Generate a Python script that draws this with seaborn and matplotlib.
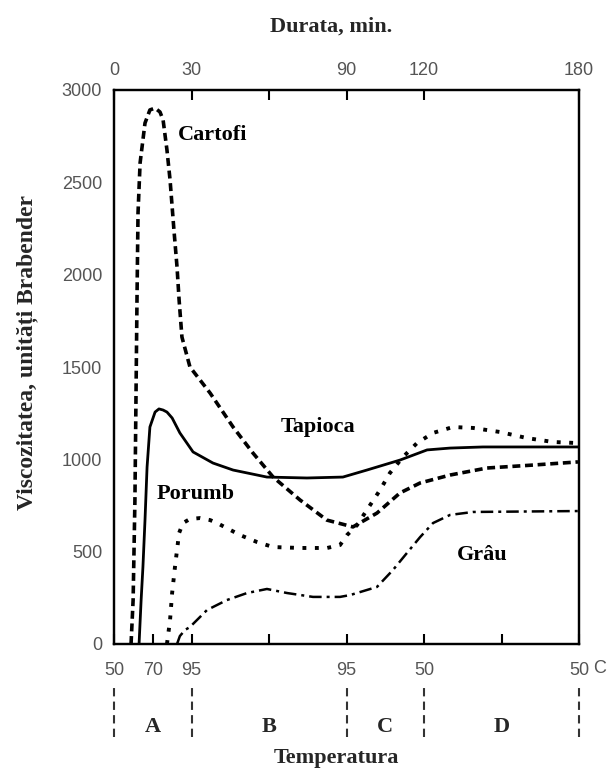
import matplotlib
matplotlib.use("Agg")
import matplotlib.pyplot as plt
import matplotlib.transforms as mtransforms
import seaborn as sns

# Brabender viscosity curves: time (min) vs. viscosity (Brabender units)
cartofi_min = [6.6, 7.4, 8.1, 8.5, 8.9, 9.3, 10.1, 12.0, 13.9, 15.9, 17.8, 19.0, 20.5,
               21.7, 23.2, 24.4, 25.2, 26.3, 29.4, 37.2, 46.1, 53.8, 61.6, 72.0, 82.4,
               92.5, 101.8, 110.7, 118.5, 130.1, 144.4, 162.2, 179.6]
cartofi_bu = [0, 238, 780, 1321, 1863, 2334, 2605, 2821, 2892, 2902, 2881, 2838, 2675,
              2513, 2242, 2041, 1863, 1662, 1500, 1359, 1175, 1034, 904, 780, 671,
              634, 709, 818, 872, 915, 953, 969, 986]

porumb_min = [9.7, 10.5, 11.2, 12.0, 12.8, 13.9, 15.9, 17.4, 19.0, 20.5, 22.5, 25.5,
              30.6, 38.3, 46.1, 59.2, 74.7, 88.6, 97.9, 110.7, 121.2, 130.1, 142.8, 179.6]
porumb_bu = [0, 238, 417, 671, 958, 1175, 1256, 1273, 1267, 1256, 1224, 1143,
             1040, 980, 942, 904, 899, 904, 942, 996, 1051, 1061, 1067, 1067]

tapioca_min = [20.5, 21.7, 22.5, 23.6, 25.2, 26.7, 29.4, 33.3, 37.2, 39.9, 48.8, 55.4,
               61.6, 72.0, 82.5, 87.5, 90.2, 94.1, 97.9, 103.0, 106.8, 111.9, 117.3,
               123.5, 131.2, 139.0, 149.4, 159.9, 169.9, 179.6]
tapioca_bu = [0, 130, 276, 417, 601, 655, 677, 682, 671, 655, 590, 552,
              525, 520, 520, 536, 590, 644, 726, 834, 926, 1013, 1088,
              1143, 1175, 1170, 1148, 1115, 1094, 1088]

grau_min = [24.4, 25.5, 27.5, 29.4, 36.0, 43.7, 51.5, 59.2, 67.0, 77.0, 87.5, 91.4,
            101.8, 108.0, 113.4, 118.5, 123.5, 130.1, 139.0, 179.6]
grau_bu = [0, 43, 76, 92, 184, 238, 276, 298, 276, 255, 255, 265,
           309, 401, 493, 579, 655, 699, 715, 720]

# curve names and where they are written (min, BU)
curve_names = ["Cartofi", "Tapioca", "Porumb", "Grâu"]
name_x = [38.3, 79.0, 31.7, 142.5]
name_y = [2756, 1175, 812, 482]

# duration axis (top)
top_ticks = [0, 30, 60, 90, 120, 180]
top_labels = ["0", "30", "", "90", "120", "180"]

# temperature axis (bottom)
bottom_ticks = [0, 15, 30, 60, 90, 120, 150, 180]
bottom_labels = ["50", "70", "95", "", "95", "50", "", "50"]

y_ticks = [0, 500, 1000, 1500, 2000, 2500, 3000]

# heating / cooling stages
stage_bounds = [0, 30, 90, 120, 180]
stage_names = ["A", "B", "C", "D"]

sns.set_theme(style="white")
plt.rcParams["font.family"] = ["Liberation Sans", "DejaVu Sans"]

SERIF = ["Liberation Serif", "DejaVu Serif"]
TICK_COLOR = "#555555"

fig = plt.figure(figsize=(6.11, 7.69), dpi=100)
fig.patch.set_facecolor("white")
ax = fig.add_axes([114 / 611, 1 - 644 / 769, 465 / 611, 554 / 769])

curves = [
    (cartofi_min, cartofi_bu, dict(linewidth=2.6, linestyle=(0, (2.2, 1.3)))),
    (porumb_min, porumb_bu, dict(linewidth=2.0, linestyle="-")),
    (tapioca_min, tapioca_bu, dict(linewidth=2.8, linestyle=(0, (1.0, 2.2)))),
    (grau_min, grau_bu, dict(linewidth=1.8, linestyle=(0, (5, 2, 1.2, 2)))),
]
for xs, ys, style in curves:
    sns.lineplot(x=xs, y=ys, ax=ax, color="black", sort=False, estimator=None, **style)

for name, tx, ty in zip(curve_names, name_x, name_y):
    ax.text(tx, ty, name, ha="center", va="center", fontsize=16,
            fontweight="bold", family=SERIF, color="black")

ax.set_xlim(0, 180)
ax.set_ylim(0, 3000)
ax.set_xlabel("")
ax.set_ylabel("")

for sp in ax.spines.values():
    sp.set_visible(True)
    sp.set_linewidth(1.6)
    sp.set_color("black")

ax.set_yticks(y_ticks)
ax.set_yticklabels([str(v) for v in y_ticks])
ax.set_xticks(bottom_ticks)
ax.set_xticklabels(bottom_labels)
ax.tick_params(axis="both", direction="in", length=7, width=1.5, color="black",
               labelsize=13, labelcolor=TICK_COLOR)
ax.tick_params(axis="x", pad=13)
ax.tick_params(axis="y", pad=8.5)

ax.annotate("C", xy=(180, 0), xytext=(10, -17.5), textcoords="offset points",
            ha="left", va="center", fontsize=13, color=TICK_COLOR)

top = ax.twiny()
top.set_xlim(0, 180)
top.set_xticks(top_ticks)
top.set_xticklabels(top_labels)
top.tick_params(axis="x", direction="in", length=7, width=1.5, color="black",
                labelsize=13, labelcolor=TICK_COLOR, pad=8)
for sp in top.spines.values():
    sp.set_linewidth(1.6)
    sp.set_color("black")

# stage markers below the plot
blend = mtransforms.blended_transform_factory(ax.transData, fig.transFigure)
ax.vlines(stage_bounds, 1 - 737 / 769, 1 - 685 / 769, transform=blend, clip_on=False,
          colors="#333333", linewidth=1.5, linestyles=(0, (4, 2.5)))
for lo, hi, name in zip(stage_bounds[:-1], stage_bounds[1:], stage_names):
    ax.text((lo + hi) / 2, 1 - 727 / 769, name, transform=blend, ha="center",
            va="center", fontsize=16, fontweight="bold", family=SERIF)

fig.text(331 / 611, 1 - 27 / 769, "Durata, min.", ha="center", va="center",
         fontsize=16, fontweight="bold", family=SERIF)
fig.text(336 / 611, 1 - 758 / 769, "Temperatura", ha="center", va="center",
         fontsize=16, fontweight="bold", family=SERIF)
fig.text(27 / 611, 1 - 352 / 769, "Viscozitatea, unități Brabender", ha="center",
         va="center", rotation=90, fontsize=17, fontweight="bold", family=SERIF)

fig.savefig("out.png", dpi=100, facecolor="white")
